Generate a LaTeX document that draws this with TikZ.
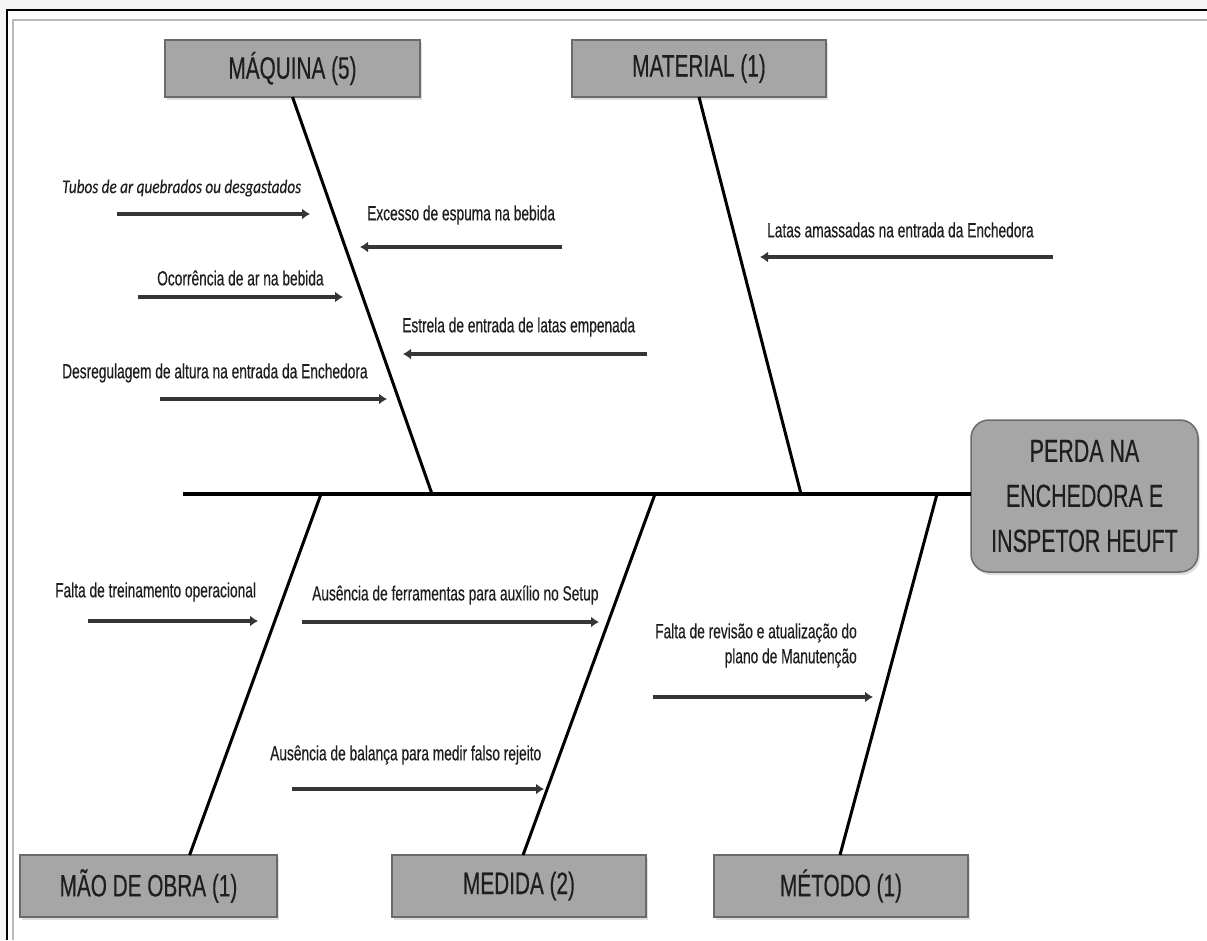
\documentclass[tikz,border=0pt]{standalone}
\usepackage{fontspec}
\setmainfont[FakeStretch=0.67,FakeBold=0.35]{Liberation Sans}
\newfontfamily\tubosfont[FakeStretch=0.78,FakeBold=0.2]{Carlito}
\usetikzlibrary{arrows.meta,shadows,calc}
\definecolor{boxfill}{HTML}{A6A6A6}
\definecolor{boxedge}{HTML}{6A6A6A}
\definecolor{arrowcol}{HTML}{353535}
\definecolor{txtcol}{HTML}{1E1E1E}
\begin{document}
\begin{tikzpicture}[x=1pt,y=-1pt,
  catbox/.style={draw=boxedge, line width=1.5pt, fill=boxfill, inner sep=0pt, outer sep=0pt,
    text=txtcol, font=\fontsize{31}{33}\selectfont,
    drop shadow={opacity=0.25, shadow xshift=2pt, shadow yshift=-3pt}},
  headbox/.style={draw=boxedge, line width=1.5pt, fill=boxfill, rounded corners=18pt, inner sep=0pt, outer sep=0pt,
    text=txtcol, font=\fontsize{32}{45}\selectfont, align=center,
    drop shadow={opacity=0.25, shadow xshift=2pt, shadow yshift=-3pt}},
  bone/.style={line width=3pt, black},
  spine/.style={line width=4.5pt, black},
  cause/.style={text=txtcol, font=\fontsize{20.5}{25}\selectfont, inner sep=0pt, anchor=west},
  causearrow/.style={draw=arrowcol, line width=4.3pt, -{Latex[length=8pt,width=11pt]}}
]
\useasboundingbox (0,0) rectangle (1207,940);
% background and frame
\fill[gray!8] (0,0) rectangle (1207,940);
\fill[white] (7,10) rectangle (1207,940);
\draw[gray!55, line width=2pt] (13,940) -- (13,20) -- (1207,20);
\draw[black, line width=2.5pt] (7,940) -- (7,10) -- (1207,10);

% category boxes
\node[catbox, minimum width=255pt, minimum height=57pt] (maq) at (292.5,68.5) {MÁQUINA (5)};
\node[catbox, minimum width=254pt, minimum height=57pt] (mat) at (699,68.5) {MATERIAL (1)};
\node[catbox, minimum width=257pt, minimum height=62pt] (mao) at (148.5,886) {MÃO DE OBRA (1)};
\node[catbox, minimum width=254pt, minimum height=62pt] (med) at (519,886) {MEDIDA (2)};
\node[catbox, minimum width=254pt, minimum height=62pt] (met) at (841,886) {MÉTODO (1)};
\node[headbox, minimum width=227pt, minimum height=152pt] (head) at (1084.5,496) {PERDA NA\\ENCHEDORA E\\INSPETOR HEUFT};

% spine and joints
\coordinate (spineL) at (183,494);
\coordinate (jmaq) at (432,494);
\coordinate (jmat) at (801,494);
\coordinate (jmao) at (321,494);
\coordinate (jmed) at (655,494);
\coordinate (jmet) at (937,494);
\draw[spine] (spineL) -- (head.west |- spineL);

% bones
\draw[bone] (maq.south) -- (jmaq);
\draw[bone] (mat.south) -- (jmat);
\draw[bone] ($(mao.north west)!0.66!(mao.north east)$) -- (jmao);
\draw[bone] ($(med.north west)!0.516!(med.north east)$) -- (jmed);
\draw[bone] ($(met.north west)!0.496!(met.north east)$) -- (jmet);

% cause texts
\node[cause, font=\tubosfont\itshape\fontsize{19.5}{22}\selectfont] (t1) at (62,188) {Tubos de ar quebrados ou desgastados};
\node[cause] (t2) at (367,215) {Excesso de espuma na bebida};
\node[cause] (t3) at (157,278) {Ocorrência de ar na bebida};
\node[cause] (t4) at (402,327) {Estrela de entrada de latas empenada};
\node[cause] (t5) at (62,373) {Desregulagem de altura na entrada da Enchedora};
\node[cause] (t6) at (767,230) {Latas amassadas na entrada da Enchedora};
\node[cause] (t7) at (55,592) {Falta de treinamento operacional};
\node[cause] (t8) at (312,595) {Ausência de ferramentas para auxílio no Setup};
\node[cause] (t9) at (270,755) {Ausência de balança para medir falso rejeito};
\node[cause, anchor=east, align=right] (t10) at (857,645.5) {Falta de revisão e atualização do\\plano de Manutenção};

% cause arrows
\coordinate (a1s) at (117,214);  \coordinate (a1e) at (310,214);
\coordinate (a2s) at (562,247);  \coordinate (a2e) at (360,247);
\coordinate (a3s) at (138,297);  \coordinate (a3e) at (343,297);
\coordinate (a4s) at (647,354);  \coordinate (a4e) at (403,354);
\coordinate (a5s) at (160,399);  \coordinate (a5e) at (387,399);
\coordinate (a6s) at (1053,257); \coordinate (a6e) at (760,257);
\coordinate (a7s) at (88,621);   \coordinate (a7e) at (258,621);
\coordinate (a8s) at (302,622);  \coordinate (a8e) at (599,622);
\coordinate (a9s) at (292,789);  \coordinate (a9e) at (544,789);
\coordinate (a10s) at (653,697); \coordinate (a10e) at (873,697);
\foreach \i in {1,...,10} {\draw[causearrow] (a\i s) -- (a\i e);}
\end{tikzpicture}
\end{document}
